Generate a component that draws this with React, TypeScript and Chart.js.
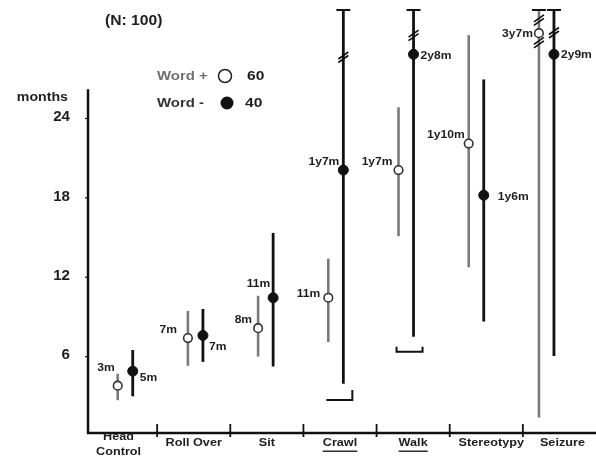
import React, { useEffect, useRef } from "react";
import { Chart, registerables } from "chart.js";

Chart.register(...registerables);

// ---------- data ----------
const categories = ["Head\nControl", "Roll Over", "Sit", "Crawl", "Walk", "Stereotypy", "Seizure"];
const underlinedCategories = ["Crawl", "Walk"];
const yTicks = [6, 12, 18, 24];

// Word + (open circles, n = 60)
const plusMean = [3.8, 7.4, 8.15, 10.45, 20.1, 22.1, 30.45];
const plusLow = [2.7, 5.3, 6.0, 7.1, 15.1, 12.75, 1.4];
const plusHigh = [4.7, 9.45, 10.6, 13.4, 24.85, 30.3, 32.2];
const plusBreaks = [[], [], [], [], [], [], [31.45, 29.75]];
const plusLabels = ["3m", "7m", "8m", "11m", "1y7m", "1y10m", "3y7m"];

// Word - (filled circles, n = 40)
const minusMean = [4.9, 7.6, 10.45, 20.1, 28.85, 18.2, 28.85];
const minusLow = [3.0, 5.6, 5.25, 3.95, 7.5, 8.65, 6.05];
const minusHigh = [6.5, 9.6, 15.35, 32.2, 32.2, 26.95, 32.2];
const minusBreaks = [[], [], [], [28.65], [30.3], [], [30.5]];
const minusLabels = ["5m", "7m", "11m", "1y7m", "2y8m", "1y6m", "2y9m"];
const minusBrackets = [null, null, null, 2.72, 6.37, null, null];

const legendItems = [
  { name: "Word +", count: "60", filled: false },
  { name: "Word -", count: "40", filled: true },
];
const title = "(N: 100)";
const yTitle = "months";

// ---------- layout / style constants ----------
const Y_MIN = 0.3;
const Y_MAX = 32.2;
const AXIS_TOP = 26.2;
const DODGE = 0.107;
const FONT = '"Liberation Sans", Arial, sans-serif';
const GRAY = "#7a7a7a";
const BLACK = "#111111";
const TEXT = "#1e1e1e";

// label placement: [side, dx, dy]
const plusLabelPos: [string, number, number][] = [
  ["left", -3, -18], ["left", -11, -8], ["left", -6, -8], ["left", -8, -4],
  ["left", -6, -8], ["left", -4, -9], ["left", -6, 1],
];
const minusLabelPos: [string, number, number][] = [
  ["right", 7, 7], ["right", 6, 11], ["left", -3, -14], ["left", -4, -8],
  ["right", 7, 2], ["right", 14, 2], ["right", 7, 1],
];
const bracketStubs = [null, null, null, { l: false, r: true }, { l: true, r: true }, null, null];

function sText(
  ctx: CanvasRenderingContext2D,
  text: string,
  x: number,
  y: number,
  align: "left" | "right" | "center",
  sx: number
) {
  const w = ctx.measureText(text).width * sx;
  const left = align === "left" ? x : align === "right" ? x - w : x - w / 2;
  ctx.save();
  ctx.translate(left, y);
  ctx.scale(sx, 1);
  ctx.textAlign = "left";
  ctx.fillText(text, 0, 0);
  ctx.restore();
  return { left, w };
}

function drawBreak(ctx: CanvasRenderingContext2D, x: number, y: number) {
  ctx.save();
  ctx.strokeStyle = BLACK;
  ctx.lineWidth = 1.7;
  ctx.beginPath();
  ctx.moveTo(x - 5, y + 2);
  ctx.lineTo(x + 5, y - 5);
  ctx.moveTo(x - 5, y + 5.5);
  ctx.lineTo(x + 5, y - 1.5);
  ctx.stroke();
  ctx.restore();
}

const customPlugin = {
  id: "customDraw",
  beforeDatasetsDraw(chart: any) {
    const ctx: CanvasRenderingContext2D = chart.ctx;
    const xs = chart.scales.xs;
    const xc = chart.scales.x;
    const y = chart.scales.y;
    const area = chart.chartArea;

    // axes
    ctx.save();
    ctx.strokeStyle = BLACK;
    ctx.lineWidth = 2.5;
    const axisX = xc.getPixelForValue(0.055);
    ctx.beginPath();
    ctx.moveTo(axisX, y.getPixelForValue(AXIS_TOP));
    ctx.lineTo(axisX, area.bottom + 1);
    ctx.lineTo(area.right, area.bottom + 1);
    ctx.stroke();
    // category tick marks
    ctx.lineWidth = 1.8;
    for (let i = 1; i < categories.length; i++) {
      const px = xc.getPixelForValue(i);
      ctx.beginPath();
      ctx.moveTo(px, area.bottom - 8);
      ctx.lineTo(px, area.bottom + 5);
      ctx.stroke();
    }
    // y ticks
    ctx.lineWidth = 1.2;
    yTicks.forEach((t) => {
      const py = y.getPixelForValue(t);
      ctx.beginPath();
      ctx.moveTo(axisX - 3, py);
      ctx.lineTo(axisX, py);
      ctx.stroke();
    });
    ctx.restore();

    // error bars
    const series = [
      { mean: plusMean, low: plusLow, high: plusHigh, breaks: plusBreaks, off: -DODGE, color: GRAY, w: 2.6 },
      { mean: minusMean, low: minusLow, high: minusHigh, breaks: minusBreaks, off: DODGE, color: BLACK, w: 2.8 },
    ];
    series.forEach((s) => {
      s.mean.forEach((_, i) => {
        const px = xs.getPixelForValue(i + s.off);
        const top = y.getPixelForValue(s.high[i]);
        const bot = y.getPixelForValue(s.low[i]);
        ctx.save();
        ctx.strokeStyle = s.color;
        ctx.lineWidth = s.w;
        ctx.beginPath();
        ctx.moveTo(px, top);
        ctx.lineTo(px, bot);
        ctx.stroke();
        if (s.high[i] >= Y_MAX) {
          ctx.strokeStyle = BLACK;
          ctx.lineWidth = 2;
          ctx.beginPath();
          ctx.moveTo(px - 7, top);
          ctx.lineTo(px + 7, top);
          ctx.stroke();
        }
        ctx.restore();
        s.breaks[i].forEach((b: number) => drawBreak(ctx, px, y.getPixelForValue(b)));
      });
    });

    // lower brackets
    minusBrackets.forEach((b, i) => {
      if (b == null) return;
      const px = xs.getPixelForValue(i + DODGE) - 4;
      const py = y.getPixelForValue(b);
      const st = bracketStubs[i]!;
      ctx.save();
      ctx.strokeStyle = BLACK;
      ctx.lineWidth = 2;
      ctx.beginPath();
      if (st.l) {
        ctx.moveTo(px - 13, py - 5);
        ctx.lineTo(px - 13, py);
      } else {
        ctx.moveTo(px - 13, py);
      }
      ctx.lineTo(px + 13, py);
      if (st.r) ctx.lineTo(px + 13, py - (st.l ? 5 : 10));
      ctx.stroke();
      ctx.restore();
    });
  },
  afterDatasetsDraw(chart: any) {
    const ctx: CanvasRenderingContext2D = chart.ctx;
    const xs = chart.scales.xs;
    const xc = chart.scales.x;
    const y = chart.scales.y;
    const area = chart.chartArea;
    const axisX = xc.getPixelForValue(0.055);

    ctx.save();
    ctx.fillStyle = TEXT;
    ctx.textBaseline = "middle";

    // title
    ctx.font = `bold 14px ${FONT}`;
    sText(ctx, title, 105, 21, "left", 1.12);

    // y title & tick labels
    ctx.font = `bold 13px ${FONT}`;
    sText(ctx, yTitle, 68, 97, "right", 1.09);
    ctx.font = `bold 14px ${FONT}`;
    yTicks.forEach((t) => {
      sText(ctx, String(t), axisX - 18, y.getPixelForValue(t) - 1, "right", 1.08);
    });

    // category labels
    ctx.font = `bold 11.5px ${FONT}`;
    categories.forEach((c, i) => {
      const px = xc.getPixelForValue(i + 0.5);
      const lines = c.split("\n");
      if (lines.length > 1) {
        sText(ctx, lines[0], px - 2, area.bottom + 5, "center", 1.1);
        sText(ctx, lines[1], px - 2, area.bottom + 20, "center", 1.1);
      } else {
        const cx = px + (i === categories.length - 1 ? 3 : i === 5 ? 5 : 0);
        const r = sText(ctx, lines[0], cx, area.bottom + 11, "center", 1.1);
        if (underlinedCategories.includes(lines[0])) {
          ctx.fillRect(r.left, area.bottom + 18.5, r.w, 1.4);
        }
      }
    });

    // point labels
    ctx.font = `bold 11.5px ${FONT}`;
    const drawLabels = (mean: number[], labels: string[], pos: [string, number, number][], off: number) => {
      mean.forEach((v, i) => {
        const px = xs.getPixelForValue(i + off);
        const py = y.getPixelForValue(v);
        const [side, dx, dy] = pos[i];
        sText(ctx, labels[i], px + dx, py + dy, side === "left" ? "right" : "left", 1.05);
      });
    };
    drawLabels(plusMean, plusLabels, plusLabelPos, -DODGE);
    drawLabels(minusMean, minusLabels, minusLabelPos, DODGE);

    // legend
    ctx.font = `bold 13px ${FONT}`;
    legendItems.forEach((it, k) => {
      const ly = 76 + k * 27;
      ctx.fillStyle = it.filled ? "#333333" : "#707070";
      sText(ctx, it.name, 157, ly, "left", 1.15);
      ctx.beginPath();
      ctx.arc(it.filled ? 227 : 225, ly, 6.5, 0, Math.PI * 2);
      if (it.filled) {
        ctx.fillStyle = BLACK;
        ctx.fill();
      } else {
        ctx.fillStyle = "#ffffff";
        ctx.fill();
        ctx.strokeStyle = "#222222";
        ctx.lineWidth = 1.5;
        ctx.stroke();
      }
      ctx.fillStyle = TEXT;
      sText(ctx, it.count, it.filled ? 245 : 247, ly, "left", 1.2);
    });
    ctx.restore();
  },
};

export default function App() {
  const ref = useRef<HTMLCanvasElement>(null);
  useEffect(() => {
    document.body.style.margin = "0";
    document.body.style.overflow = "hidden";
    const canvas = ref.current!;
    const chart = new Chart(canvas, {
      type: "scatter",
      data: {
        datasets: [
          {
            label: "Word +",
            xAxisID: "xs",
            data: plusMean.map((v, i) => ({ x: i - DODGE, y: v })),
            pointRadius: 4.3,
            pointBackgroundColor: "#ffffff",
            pointBorderColor: "#333333",
            pointBorderWidth: 1.6,
          },
          {
            label: "Word -",
            xAxisID: "xs",
            data: minusMean.map((v, i) => ({ x: i + DODGE, y: v })),
            pointRadius: 5,
            pointBackgroundColor: BLACK,
            pointBorderColor: BLACK,
            pointBorderWidth: 1,
          },
        ],
      },
      options: {
        responsive: false,
        animation: false,
        layout: { autoPadding: false, padding: { left: 84, right: 0, top: 10, bottom: 26 } },
        plugins: { legend: { display: false }, tooltip: { enabled: false } },
        scales: {
          x: { type: "linear", axis: "x", min: 0, max: 7, display: false },
          xs: { type: "linear", axis: "x", min: -0.587, max: 6.706, display: false },
          y: { type: "linear", min: Y_MIN, max: Y_MAX, display: false },
        },
      },
      plugins: [customPlugin],
    });
    return () => chart.destroy();
  }, []);
  return (
    <div style={{ width: 596, height: 458, background: "#ffffff", overflow: "hidden" }}>
      <canvas ref={ref} width={596} height={458} style={{ display: "block" }} />
    </div>
  );
}
